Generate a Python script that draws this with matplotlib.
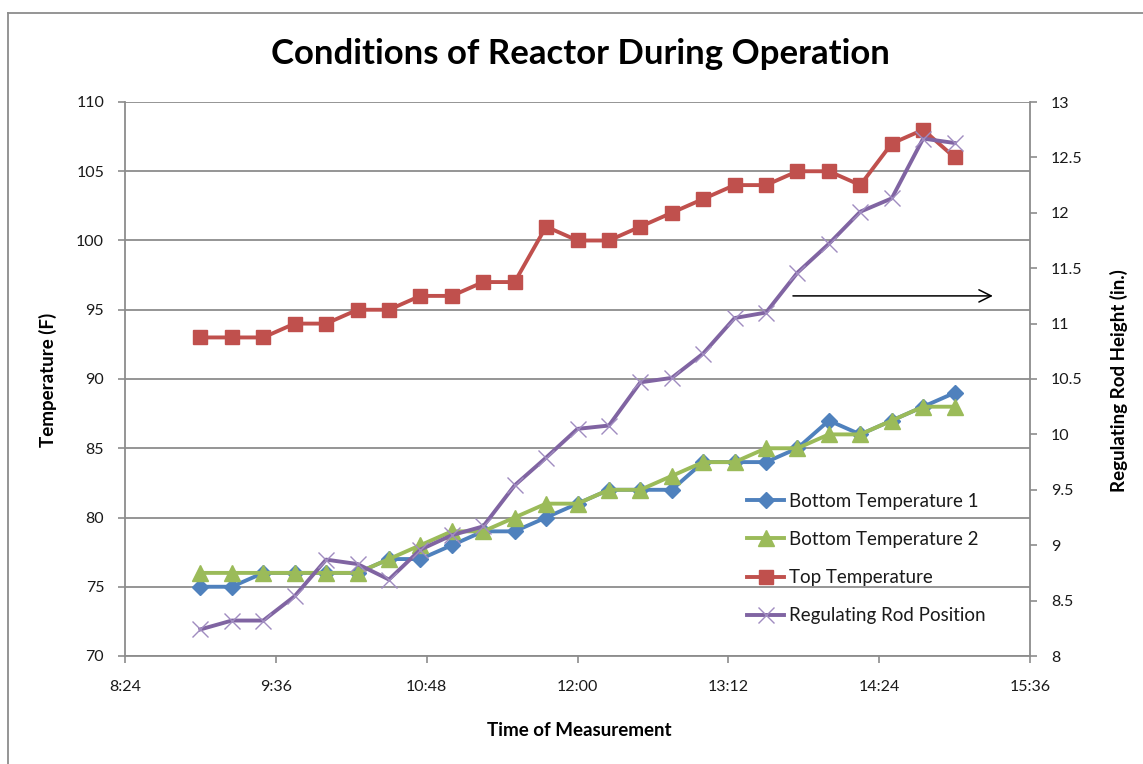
import matplotlib
matplotlib.use("Agg")
import matplotlib.pyplot as plt
from matplotlib.lines import Line2D
from matplotlib.ticker import FixedLocator

times = ["9:00", "9:15", "9:30", "9:45", "10:00", "10:15", "10:30", "10:45", "11:00",
         "11:15", "11:30", "11:45", "12:00", "12:15", "12:30", "12:45", "13:00",
         "13:15", "13:30", "13:45", "14:00", "14:15", "14:30", "14:45", "15:00"]
bottom_temp_1 = [75, 75, 76, 76, 76, 76, 77, 77, 78, 79, 79, 80, 81, 82, 82, 82, 84,
                 84, 84, 85, 87, 86, 87, 88, 89]
bottom_temp_2 = [76, 76, 76, 76, 76, 76, 77, 78, 79, 79, 80, 81, 81, 82, 82, 83, 84,
                 84, 85, 85, 86, 86, 87, 88, 88]
top_temp = [93, 93, 93, 94, 94, 95, 95, 96, 96, 97, 97, 101, 100, 100, 101, 102, 103,
            104, 104, 105, 105, 104, 107, 108, 106]
rod_position = [8.24, 8.32, 8.32, 8.54, 8.87, 8.83, 8.69, 8.96, 9.09, 9.17, 9.54, 9.79,
                10.05, 10.08, 10.47, 10.51, 10.73, 11.05, 11.10, 11.46, 11.72, 12.01,
                12.13, 12.67, 12.63]
x_tick_labels = ["8:24", "9:36", "10:48", "12:00", "13:12", "14:24", "15:36"]
right_tick_labels = ["8", "8.5", "9", "9.5", "10", "10.5", "11", "11.5", "12", "12.5", "13"]
series_names = ["Bottom Temperature 1", "Bottom Temperature 2", "Top Temperature",
                "Regulating Rod Position"]


def to_hours(s):
    h, m = s.split(":")
    return int(h) + int(m) / 60.0


x = [to_hours(t) for t in times]
xticks = [to_hours(t) for t in x_tick_labels]
rticks = [float(v) for v in right_tick_labels]

FONT = "Lato"
BLUE = "#4F81BD"
RED = "#C0504D"
GREEN = "#9BBB59"
PURPLE = "#8064A2"
GRID = "#8C8C8C"
TXT = "#1a1a1a"

fig = plt.figure(figsize=(11.43, 7.64), dpi=100)
W, H = 1143, 764
left, right, top, bottom = 125, 1030, 102, 656
ax = fig.add_axes([left / W, 1 - bottom / H, (right - left) / W, (bottom - top) / H])
ax2 = ax.twinx()

ax.set_xlim(xticks[0], xticks[-1])
ax.set_ylim(70, 110)
ax2.set_ylim(rticks[0], rticks[-1])

ax.xaxis.set_major_locator(FixedLocator(xticks))
ax.set_xticklabels(x_tick_labels)
ax.set_yticks(range(70, 111, 5))
ax2.set_yticks(rticks)
ax2.set_yticklabels(right_tick_labels)

ax.grid(axis="y", color=GRID, lw=1.3)
ax.set_axisbelow(True)
for a in (ax, ax2):
    for s in a.spines.values():
        s.set_visible(False)
for a, side in ((ax, "left"), (ax, "bottom"), (ax2, "right")):
    a.spines[side].set_visible(True)
    a.spines[side].set_color(GRID)
    a.spines[side].set_linewidth(1.3)

for a in (ax, ax2):
    a.tick_params(axis="both", colors=GRID, length=5, width=1.2, direction="out",
                  labelcolor=TXT, labelsize=11.5)
ax.tick_params(axis="x", pad=12)
ax.tick_params(axis="y", pad=10)
ax2.tick_params(axis="y", pad=10)
for lab in ax.get_xticklabels() + ax.get_yticklabels() + ax2.get_yticklabels():
    lab.set_fontfamily(FONT)

lw = 2.8
l1, = ax.plot(x, bottom_temp_1, color=BLUE, lw=lw, marker="D", ms=8, label=series_names[0], zorder=3)
l2, = ax.plot(x, bottom_temp_2, color=GREEN, lw=lw, marker="^", ms=11, label=series_names[1], zorder=4)
l3, = ax.plot(x, top_temp, color=RED, lw=lw, marker="s", ms=10.5, label=series_names[2], zorder=3)
l4, = ax2.plot(x, rod_position, color=PURPLE, lw=lw, marker="x", ms=11, mew=1.0,
               mec="#A08CC0", label=series_names[3], zorder=5)

leg = ax2.legend(handles=[l1, l2, l3, l4], loc="upper left", bbox_to_anchor=(0.679, 0.308),
                 frameon=False, prop={"family": FONT, "size": 13.5}, handlelength=2.0,
                 handletextpad=0.25, labelspacing=1.13, borderaxespad=0, labelcolor=TXT)

ax.annotate("", xy=(0.962, 0.650), xytext=(0.735, 0.650), xycoords="axes fraction",
            arrowprops=dict(arrowstyle="->", color="black", lw=1.1, mutation_scale=22))

fig.text(580 / W, 1 - 54 / H, "Conditions of Reactor During Operation", ha="center",
         va="center", fontsize=25, fontweight="bold", family=FONT, color="black")
fig.text(48 / W, 1 - 380 / H, "Temperature (F)", rotation=90, ha="center", va="center",
         fontsize=13.5, fontweight="bold", family=FONT, color="black")
fig.text(1119 / W, 1 - 381 / H, "Regulating Rod Height (in.)", rotation=90, ha="center",
         va="center", fontsize=13.5, fontweight="bold", family=FONT, color="black")
fig.text(579 / W, 1 - 730 / H, "Time of Measurement", ha="center", va="center",
         fontsize=13.5, fontweight="bold", family=FONT, color="black")

# outer chart frame (cropped at right and bottom)
fig.add_artist(Line2D([8 / W, 8 / W], [0, 1 - 13 / H], transform=fig.transFigure, color=GRID, lw=1.3))
fig.add_artist(Line2D([8 / W, 1], [1 - 13 / H, 1 - 13 / H], transform=fig.transFigure, color=GRID, lw=1.3))

fig.savefig("out.png", dpi=100)
